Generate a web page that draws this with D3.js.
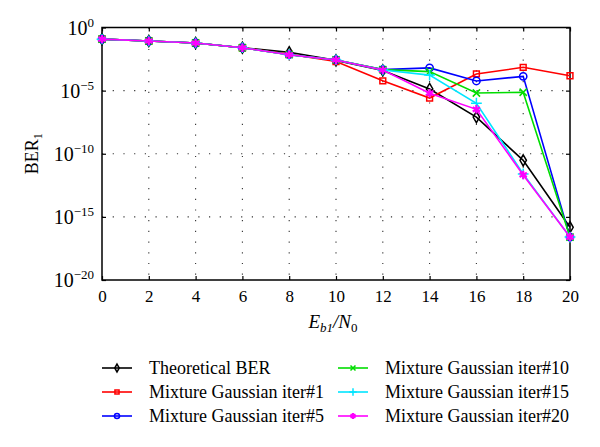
<!DOCTYPE html>
<html>
<head>
<meta charset="utf-8">
<script src="https://cdn.jsdelivr.net/npm/d3@7"></script>
<style>
  body { margin: 0; background: #fff; }
  svg text { font-family: "Liberation Serif", "Times New Roman", "DejaVu Serif", serif !important; fill: #000; }
</style>
</head>
<body>
<svg id="chart"></svg>
<script>
"use strict";

const snr = [0, 2, 4, 6, 8, 10, 12, 14, 16, 18, 20];
const theoretical = [1.2e-1, 8.5e-2, 5.9e-2, 2.5e-2, 1.1e-2, 2.5e-3, 4.0e-4, 1.35e-5, 8e-8, 3e-11, 1.5e-16];
const iter1 = [1.2e-1, 8.5e-2, 5.9e-2, 2.5e-2, 7.5e-3, 2.0e-3, 6.0e-5, 2.6e-6, 2.1e-4, 7.0e-4, 1.5e-4];
const iter5 = [1.2e-1, 8.5e-2, 5.9e-2, 2.5e-2, 7.0e-3, 2.7e-3, 4.6e-4, 6.3e-4, 5.8e-5, 1.35e-4, 2.5e-17];
const iter10 = [1.2e-1, 8.5e-2, 5.9e-2, 2.5e-2, 7.0e-3, 2.7e-3, 4.6e-4, 3.2e-4, 6.5e-6, 7.4e-6, 2.5e-17];
const iter15 = [1.2e-1, 8.5e-2, 5.9e-2, 2.5e-2, 7.0e-3, 2.7e-3, 4.3e-4, 1.7e-4, 1.0e-6, 2.5e-12, 2.5e-17];
const iter20 = [1.2e-1, 8.5e-2, 5.9e-2, 2.5e-2, 7.0e-3, 2.7e-3, 4.3e-4, 6.3e-6, 3.3e-7, 2.1e-12, 2.5e-17];

const seriesNames = [
  "Theoretical BER",
  "Mixture Gaussian iter#1",
  "Mixture Gaussian iter#5",
  "Mixture Gaussian iter#10",
  "Mixture Gaussian iter#15",
  "Mixture Gaussian iter#20",
];
const xTicks = [0, 2, 4, 6, 8, 10, 12, 14, 16, 18, 20];
const yTickExps = [0, -5, -10, -15, -20];

const width = 600;
const height = 447;
const plotLeft = 102, plotRight = 570, plotTop = 27.5, plotBottom = 280;
const serif = "'Liberation Serif', 'Times New Roman', serif";

const series = [
  { name: seriesNames[0], values: theoretical, color: "#000000", symbol: d3.symbolDiamond, size: 36 },
  { name: seriesNames[1], values: iter1, color: "#ff0000", symbol: d3.symbolSquare, size: 34 },
  { name: seriesNames[2], values: iter5, color: "#0000ff", symbol: d3.symbolCircle, size: 42 },
  { name: seriesNames[3], values: iter10, color: "#00dd00", symbol: d3.symbolTimes, size: 36 },
  { name: seriesNames[4], values: iter15, color: "#00e5ff", symbol: d3.symbolPlus, size: 40 },
  { name: seriesNames[5], values: iter20, color: "#ff00ff", symbol: d3.symbolAsterisk, size: 50 },
];

const svg = d3.select("#chart").attr("width", width).attr("height", height)
  .style("font-family", serif);

const xScale = d3.scaleLinear().domain([0, 20]).range([plotLeft, plotRight]);
const yScale = d3.scaleLog().domain([1, 1e-20]).range([plotTop, plotBottom]);

// grid
const grid = svg.append("g").attr("stroke", "#333").attr("stroke-width", 1.1)
  .attr("stroke-dasharray", "1.2,9.5");
grid.selectAll(".gx").data(xTicks.slice(1, -1)).enter().append("line")
  .attr("x1", (d) => xScale(d)).attr("x2", (d) => xScale(d))
  .attr("y1", plotTop).attr("y2", plotBottom);
grid.selectAll(".gy").data(yTickExps.slice(1, -1)).enter().append("line")
  .attr("x1", plotLeft).attr("x2", plotRight)
  .attr("y1", (d) => yScale(Math.pow(10, d))).attr("y2", (d) => yScale(Math.pow(10, d)));

// frame and inward ticks
const xAxis = d3.axisBottom(xScale).tickValues(xTicks).tickSizeInner(-4).tickSizeOuter(0).tickPadding(10);
const gx = svg.append("g").attr("transform", `translate(0,${plotBottom})`).call(xAxis);
gx.attr("font-family", null);
gx.selectAll("text").attr("font-size", 17).style("font-family", serif);
svg.append("g").attr("transform", `translate(0,${plotTop})`)
  .call(d3.axisTop(xScale).tickValues(xTicks).tickSizeInner(-4).tickSizeOuter(0).tickFormat(""));

const yAxis = d3.axisLeft(yScale).tickValues(yTickExps.map((e) => Math.pow(10, e)))
  .tickSizeInner(-4).tickSizeOuter(0).tickFormat("");
svg.append("g").attr("transform", `translate(${plotLeft},0)`).call(yAxis);
svg.append("g").attr("transform", `translate(${plotRight},0)`)
  .call(d3.axisRight(yScale).tickValues(yTickExps.map((e) => Math.pow(10, e)))
    .tickSizeInner(-4).tickSizeOuter(0).tickFormat(""));
svg.selectAll(".domain").remove();
svg.selectAll(".tick line").attr("stroke", "#000").attr("stroke-width", 1.2);

svg.append("rect").attr("x", plotLeft).attr("y", plotTop)
  .attr("width", plotRight - plotLeft).attr("height", plotBottom - plotTop)
  .attr("fill", "none").attr("stroke", "#000").attr("stroke-width", 1.5);

// y tick labels with superscript exponents
yTickExps.forEach((e) => {
  const t = svg.append("text")
    .attr("x", plotLeft - 8).attr("y", yScale(Math.pow(10, e)) + 7)
    .attr("text-anchor", "end").attr("font-size", 20).style("font-family", serif);
  t.append("tspan").text("10");
  t.append("tspan").attr("dy", -8).attr("font-size", 13)
    .text(e === 0 ? "0" : "\u2212" + Math.abs(e));
});

// axis titles
const yl = svg.append("text")
  .attr("transform", `translate(38,${(plotTop + plotBottom) / 2}) rotate(-90)`)
  .attr("text-anchor", "middle").attr("font-size", 18).style("font-family", serif);
yl.append("tspan").text("BER");
yl.append("tspan").attr("font-size", 12).attr("dy", 4).text("1");

const xl = svg.append("text").attr("x", xScale(10) - 3).attr("y", 328)
  .attr("text-anchor", "middle").attr("font-size", 19).attr("font-style", "italic")
  .style("font-family", serif);
xl.append("tspan").text("E");
xl.append("tspan").attr("font-size", 13).attr("dy", 4).text("b1");
xl.append("tspan").attr("dy", -4).text("/N");
xl.append("tspan").attr("font-size", 13).attr("dy", 4).attr("font-style", "normal").text("0");

// lines and markers
const line = d3.line()
  .x((d, i) => xScale(snr[i]))
  .y((d) => yScale(d));

const drawMarker = (g, s) => {
  g.append("path")
    .attr("d", d3.symbol().type(s.symbol).size(s.size)())
    .attr("fill", "none")
    .attr("stroke", s.color)
    .attr("stroke-width", s.symbol === d3.symbolAsterisk ? 2.2 : 1.5);
};

series.forEach((s) => {
  svg.append("path").datum(s.values)
    .attr("d", line).attr("fill", "none")
    .attr("stroke", s.color).attr("stroke-width", 1.6);
  s.values.forEach((v, i) => {
    const g = svg.append("g").attr("transform", `translate(${xScale(snr[i])},${yScale(v)})`);
    drawMarker(g, s);
  });
});

// legend
const legendRows = [368, 392, 416];
series.forEach((s, i) => {
  const col = Math.floor(i / 3);
  const y = legendRows[i % 3];
  const x0 = col === 0 ? 102 : 338;
  const g = svg.append("g");
  g.append("line").attr("x1", x0).attr("x2", x0 + 30).attr("y1", y).attr("y2", y)
    .attr("stroke", s.color).attr("stroke-width", 1.6);
  const m = g.append("g").attr("transform", `translate(${x0 + 15},${y})`);
  drawMarker(m, { ...s, size: s.size * 0.5 });
  g.append("text").attr("x", x0 + 47).attr("y", y + 6)
    .attr("font-size", 18).style("font-family", serif).text(s.name);
});
</script>
</body>
</html>
